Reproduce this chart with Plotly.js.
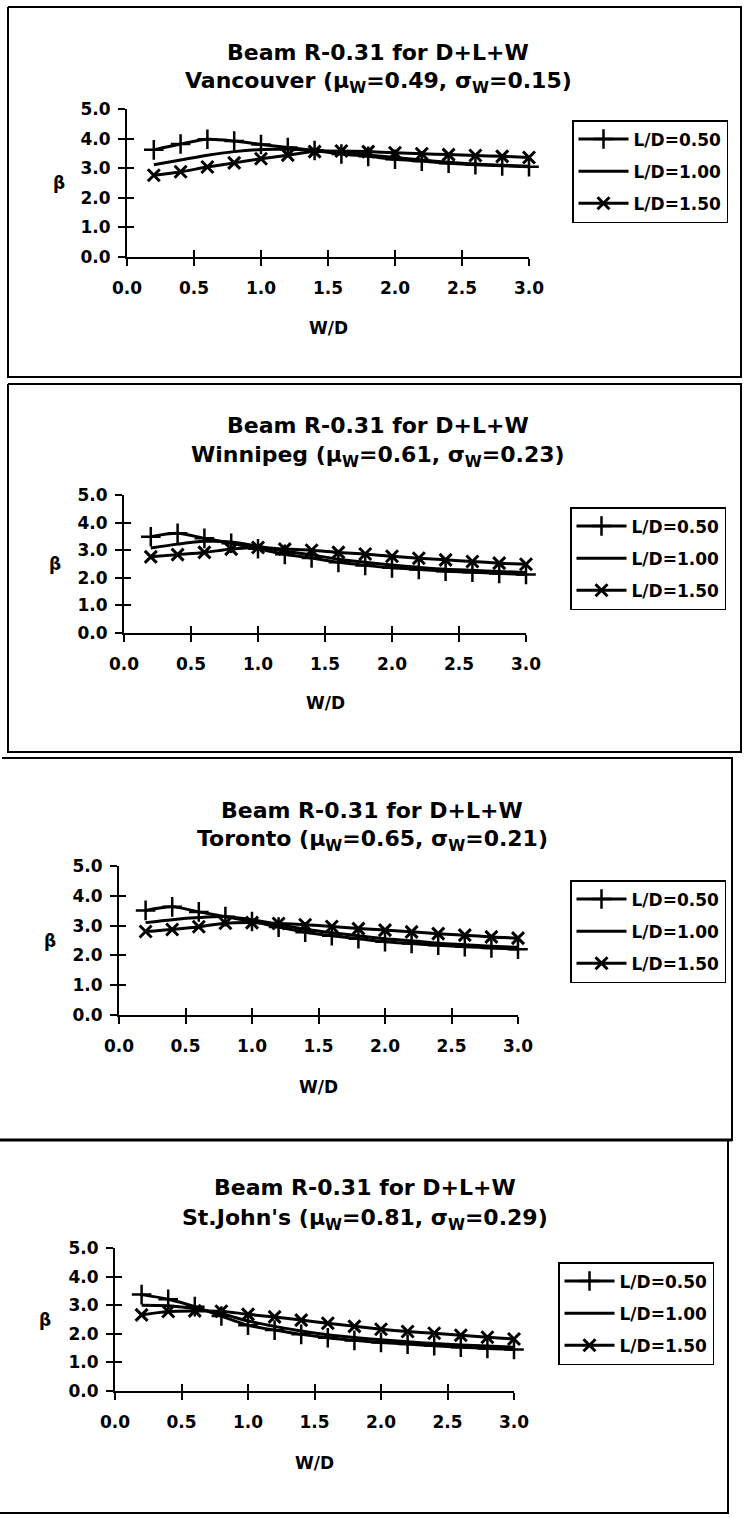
<!DOCTYPE html>
<html>
<head>
<meta charset="utf-8">
<script src="https://cdn.plot.ly/plotly-3.0.1.min.js"></script>
<style>
html,body{margin:0;padding:0;background:#fff;}
#chart{width:744px;height:1518px;}
</style>
</head>
<body>
<div id="chart"></div>
<script>
// ---------------- data ----------------
const wd = [0.2, 0.4, 0.6, 0.8, 1.0, 1.2, 1.4, 1.6, 1.8, 2.0, 2.2, 2.4, 2.6, 2.8, 3.0];

const seriesNames = ['L/D=0.50', 'L/D=1.00', 'L/D=1.50'];

const vancouver_050 = [3.62, 3.82, 3.98, 3.92, 3.80, 3.70, 3.60, 3.48, 3.40, 3.30, 3.24, 3.17, 3.12, 3.08, 3.05];
const vancouver_100 = [3.12, 3.28, 3.44, 3.56, 3.63, 3.64, 3.60, 3.54, 3.45, 3.36, 3.28, 3.20, 3.14, 3.10, 3.07];
const vancouver_150 = [2.76, 2.88, 3.04, 3.18, 3.32, 3.44, 3.56, 3.58, 3.56, 3.52, 3.49, 3.46, 3.43, 3.40, 3.36];

const winnipeg_050 = [3.49, 3.61, 3.43, 3.25, 3.05, 2.85, 2.72, 2.56, 2.45, 2.36, 2.30, 2.24, 2.20, 2.16, 2.12];
const winnipeg_100 = [3.08, 3.22, 3.32, 3.30, 3.14, 2.96, 2.83, 2.67, 2.56, 2.46, 2.38, 2.31, 2.27, 2.23, 2.19];
const winnipeg_150 = [2.76, 2.84, 2.92, 3.04, 3.10, 3.04, 3.00, 2.92, 2.86, 2.78, 2.71, 2.65, 2.59, 2.53, 2.49];

const toronto_050 = [3.51, 3.63, 3.46, 3.30, 3.14, 2.95, 2.78, 2.66, 2.56, 2.46, 2.40, 2.34, 2.29, 2.25, 2.21];
const toronto_100 = [3.10, 3.20, 3.27, 3.30, 3.20, 3.04, 2.88, 2.76, 2.66, 2.56, 2.49, 2.41, 2.36, 2.31, 2.27];
const toronto_150 = [2.80, 2.87, 2.96, 3.08, 3.10, 3.07, 3.03, 2.97, 2.90, 2.85, 2.79, 2.73, 2.68, 2.62, 2.58];

const stjohns_050 = [3.37, 3.21, 2.95, 2.62, 2.30, 2.13, 1.98, 1.86, 1.77, 1.70, 1.64, 1.58, 1.53, 1.49, 1.45];
const stjohns_100 = [3.00, 2.98, 2.88, 2.70, 2.45, 2.26, 2.10, 1.97, 1.87, 1.79, 1.72, 1.66, 1.61, 1.57, 1.53];
const stjohns_150 = [2.66, 2.78, 2.80, 2.79, 2.68, 2.59, 2.48, 2.37, 2.26, 2.16, 2.08, 2.02, 1.95, 1.88, 1.82];

const titleLine1 = 'Beam R-0.31 for D+L+W';
const titleLine2 = [
  'Vancouver (μ<sub>W</sub>=0.49, σ<sub>W</sub>=0.15)',
  'Winnipeg (μ<sub>W</sub>=0.61, σ<sub>W</sub>=0.23)',
  'Toronto (μ<sub>W</sub>=0.65, σ<sub>W</sub>=0.21)',
  'St.John\'s (μ<sub>W</sub>=0.81, σ<sub>W</sub>=0.29)'
];
const panelData = [
  [vancouver_050, vancouver_100, vancouver_150],
  [winnipeg_050, winnipeg_100, winnipeg_150],
  [toronto_050, toronto_100, toronto_150],
  [stjohns_050, stjohns_100, stjohns_150]
];

const xTickVals = [0, 0.5, 1.0, 1.5, 2.0, 2.5, 3.0];
const xTickText = ['0.0', '0.5', '1.0', '1.5', '2.0', '2.5', '3.0'];
const yTickVals = [0, 1, 2, 3, 4, 5];
const yTickText = ['0.0', '1.0', '2.0', '3.0', '4.0', '5.0'];
const xTitle = 'W/D';
const yTitle = 'β';

// ---------------- layout geometry (pixels) ----------------
const W = 744, H = 1518;
const FONT = 'DejaVu Sans';
const panels = [
  {ax: [127, 529], ay: [109, 257], t1: 53, t2: 82, tx: 378, leg: [572, 120], bx: 59, wdY: 328,
   border: [[8, 7], [741, 7], [741, 377], [8, 377], [8, 7]]},
  {ax: [124, 526], ay: [495, 633], t1: 425, t2: 457, tx: 378, leg: [570, 507], bx: 55, wdY: 703,
   border: [[8, 384], [741, 384], [741, 752], [8, 752], [8, 384]]},
  {ax: [119, 518], ay: [866, 1015], t1: 810, t2: 840, tx: 372, leg: [570, 880], bx: 50, wdY: 1087,
   border: [[2, 758], [732, 758], [732, 1140], [2, 1140]]},
  {ax: [115, 514], ay: [1248, 1391], t1: 1187, t2: 1219, tx: 365, leg: [558, 1262], bx: 45, wdY: 1463,
   border: [[0, 1140], [728, 1140], [728, 1513], [0, 1513]]}
];
const px = x => x / W;
const py = y => 1 - y / H;

const traces = [];
const layout = {
  width: W, height: H,
  margin: {l: 0, r: 0, t: 0, b: 0, pad: 0},
  paper_bgcolor: '#ffffff',
  plot_bgcolor: 'rgba(0,0,0,0)',
  showlegend: true,
  annotations: [],
  shapes: [],
  font: {family: FONT, color: '#000'}
};

const tickFont = {family: FONT, size: 17, weight: 'bold', color: '#000'};
const markerStyles = [
  {symbol: 'cross-thin', size: 14, color: '#000', line: {width: 2.5, color: '#000'}},
  null,
  {symbol: 'x-thin', size: 12, color: '#000', line: {width: 3, color: '#000'}}
];

panels.forEach((p, i) => {
  const n = i + 1;
  const xs = n === 1 ? '' : String(n);
  const on = i + 5;
  const xDom = [px(p.ax[0]), px(p.ax[1])];
  const yDom = [py(p.ay[1]), py(p.ay[0])];
  const legName = n === 1 ? 'legend' : 'legend' + n;

  layout['xaxis' + xs] = {
    domain: xDom, range: [0, 3], anchor: 'y' + xs,
    tickmode: 'array', tickvals: xTickVals, ticktext: xTickText,
    ticks: 'outside', ticklen: 7, tickwidth: 2, tickcolor: '#000',
    showline: true, linewidth: 2, linecolor: '#000',
    showgrid: false, zeroline: false, fixedrange: true,
    tickfont: tickFont, ticklabelstandoff: 8
  };
  layout['yaxis' + xs] = {
    domain: yDom, range: [0, 5], anchor: 'x' + xs,
    tickmode: 'array', tickvals: yTickVals, ticktext: yTickText,
    ticks: 'outside', ticklen: 7, tickwidth: 2, tickcolor: '#000',
    showline: true, linewidth: 2, linecolor: '#000',
    showgrid: false, zeroline: false, fixedrange: true,
    tickfont: tickFont, ticklabelstandoff: 4
  };
  // overlay axes giving the inner half of the crossing tick marks
  layout['xaxis' + on] = {
    overlaying: 'x' + xs, anchor: 'y' + on, range: [0, 3],
    tickmode: 'array', tickvals: xTickVals,
    ticks: 'inside', ticklen: 7, tickwidth: 2, tickcolor: '#000',
    showline: false, showticklabels: false, showgrid: false, zeroline: false, fixedrange: true
  };
  layout['yaxis' + on] = {
    overlaying: 'y' + xs, anchor: 'x' + on, range: [0, 5],
    tickmode: 'array', tickvals: yTickVals,
    ticks: 'inside', ticklen: 7, tickwidth: 2, tickcolor: '#000',
    showline: false, showticklabels: false, showgrid: false, zeroline: false, fixedrange: true
  };
  traces.push({x: [null], y: [null], xaxis: 'x' + on, yaxis: 'y' + on, mode: 'markers',
    showlegend: false, hoverinfo: 'skip'});

  layout[legName] = {
    x: px(p.leg[0]), y: py(p.leg[1]), xanchor: 'left', yanchor: 'top',
    bgcolor: '#ffffff', bordercolor: '#000', borderwidth: 1.5,
    font: {family: FONT, size: 17, weight: 'bold', color: '#000'},
    itemwidth: 50, tracegroupgap: 7, traceorder: 'grouped'
  };

  panelData[i].forEach((vals, k) => {
    const t = {
      x: wd, y: vals, name: seriesNames[k],
      xaxis: 'x' + xs, yaxis: 'y' + xs,
      legend: legName, legendgroup: 'p' + n + 's' + k,
      mode: markerStyles[k] ? 'lines+markers' : 'lines',
      line: {color: '#000', width: 3, shape: 'spline', smoothing: 0.8},
      cliponaxis: false, hoverinfo: 'skip'
    };
    if (markerStyles[k]) t.marker = markerStyles[k];
    traces.push(t);
  });

  layout.annotations.push(
    {text: titleLine1, x: px(p.tx), y: py(p.t1), xref: 'paper', yref: 'paper',
     xanchor: 'center', yanchor: 'middle', showarrow: false,
     font: {family: FONT, size: 22, weight: 'bold', color: '#000'}},
    {text: titleLine2[i], x: px(p.tx), y: py(p.t2), xref: 'paper', yref: 'paper',
     xanchor: 'center', yanchor: 'middle', showarrow: false,
     font: {family: FONT, size: 22, weight: 'bold', color: '#000'}},
    {text: xTitle, x: px((p.ax[0] + p.ax[1]) / 2), y: py(p.wdY), xref: 'paper', yref: 'paper',
     xanchor: 'center', yanchor: 'middle', showarrow: false,
     font: {family: FONT, size: 17, weight: 'bold', color: '#000'}},
    {text: yTitle, x: px(p.bx), y: py((p.ay[0] + p.ay[1]) / 2), xref: 'paper', yref: 'paper',
     xanchor: 'center', yanchor: 'middle', showarrow: false,
     font: {family: FONT, size: 17, weight: 'bold', color: '#000'}}
  );

  const path = p.border.map((pt, j) => (j === 0 ? 'M' : 'L') + px(pt[0]) + ',' + py(pt[1])).join(' ');
  layout.shapes.push({type: 'path', path: path, xref: 'paper', yref: 'paper',
    line: {color: '#000', width: 2}});
});
// heavier rule between the third and fourth panels
layout.shapes.push({type: 'line', xref: 'paper', yref: 'paper',
  x0: 0, x1: px(732), y0: py(1140), y1: py(1140), line: {color: '#000', width: 3}});

Plotly.newPlot('chart', traces, layout, {staticPlot: true, displayModeBar: false});
</script>
</body>
</html>
